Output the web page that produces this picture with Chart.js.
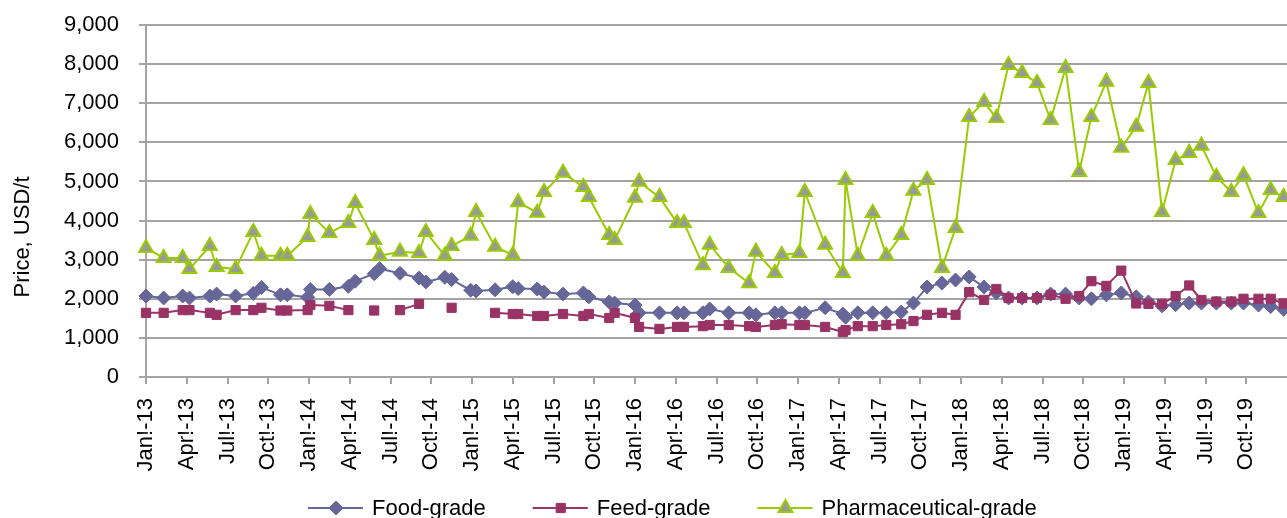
<!DOCTYPE html>
<html>
<head>
<meta charset="utf-8">
<title>Price, USD/t</title>
<script src="https://cdn.jsdelivr.net/npm/chart.js@4.4.1/dist/chart.umd.min.js"></script>
<style>
  html, body { margin: 0; padding: 0; background: #fff; }
  #wrap { width: 1287px; height: 518px; }
</style>
</head>
<body>
<div id="wrap"><canvas id="price-chart" width="1287" height="518"></canvas></div>
<script>
const monthPos = [
  0, 1.3, 2.7, 3.2, 4.7, 5.2, 6.6, 7.9, 8.5, 9.9, 10.4, 11.9, 12.1, 13.5,
  14.9, 15.4, 16.8, 17.2, 18.7, 20.1, 20.6, 22.0, 22.5, 23.9, 24.3, 25.7,
  27.0, 27.4, 28.8, 29.3, 30.7, 32.2, 32.6, 34.1, 34.5, 36.0, 36.3, 37.8,
  39.1, 39.6, 41.0, 41.5, 42.9, 44.4, 44.9, 46.3, 46.8, 48.1, 48.5, 50.0,
  51.3, 51.5, 52.4, 53.5, 54.5, 55.6, 56.5, 57.5, 58.6, 59.6, 60.6, 61.7,
  62.6, 63.5, 64.5, 65.6, 66.6, 67.7, 68.7, 69.6, 70.7, 71.8, 72.9, 73.8,
  74.8, 75.8, 76.8, 77.7, 78.8, 79.9, 80.8, 81.9, 82.8, 83.75
];

const foodGrade = [
  2070, 2020, 2070, 2020, 2070, 2120, 2070, 2140, 2290, 2100, 2100, 2040, 2240, 2240,
  2320, 2450, 2640, 2770, 2650, 2530, 2430, 2550, 2490, 2220, 2200, 2230,
  2310, 2260, 2250, 2170, 2120, 2150, 2050, 1920, 1890, 1840, 1640, 1640,
  1640, 1640, 1640, 1740, 1640, 1640, 1590, 1640, 1640, 1640, 1640, 1770,
  1610, 1530, 1640, 1640, 1640, 1660, 1890, 2300, 2400, 2480, 2560, 2300,
  2150, 2020, 2020, 2020, 2120, 2120, 2020, 2000, 2100, 2150, 2050, 1920,
  1820, 1850, 1890, 1890, 1890, 1890, 1890, 1840, 1800, 1730
];

// null = no quote for that date (gap in the line)
const feedGrade = [
  1640, 1640, 1710, 1710, 1640, 1590, 1710, 1710, 1770, 1700, 1700, 1710, 1840, 1820,
  1710, null, 1700, null, 1710, 1870, null, null, 1770, null, null, 1640,
  1610, 1610, 1560, 1560, 1610, 1560, 1610, 1510, 1640, 1510, 1280, 1230,
  1280, 1280, 1300, 1330, 1330, 1300, 1280, 1330, 1350, 1330, 1330, 1280,
  1150, 1200, 1300, 1300, 1330, 1350, 1430, 1590, 1640, 1590, 2170, 1970,
  2250, 2020, 2020, 2020, 2100, 2000, 2070, 2450, 2330, 2720, 1880, 1870,
  1870, 2070, 2340, 1970, 1930, 1930, 2000, 2000, 2000, 1880
];

const pharmaGrade = [
  3300, 3040, 3040, 2760, 3350, 2810, 2760, 3710, 3100, 3100, 3100, 3580, 4170, 3680,
  3940, 4450, 3500, 3100, 3200, 3170, 3710, 3100, 3350, 3610, 4220, 3330,
  3120, 4470, 4200, 4730, 5220, 4860, 4600, 3630, 3500, 4580, 4990, 4600,
  3940, 3940, 2860, 3380, 2790, 2400, 3200, 2660, 3120, 3170, 4730, 3380,
  2660, 5040, 3100, 4190, 3100, 3630, 4760, 5040, 2790, 3810, 6650, 7030,
  6620, 7980, 7770, 7520, 6570, 7900, 5240, 6650, 7550, 5860, 6400, 7520,
  4220, 5550, 5730, 5910, 5120, 4730, 5160, 4190, 4780, 4600
];

// Quarterly axis labels (one every 3 months from Jan 2013)
const tickLabels = [
  "Jan!-13", "Apr!-13", "Jul!-13", "Oct!-13",
  "Jan!-14", "Apr!-14", "Jul!-14", "Oct!-14",
  "Jan!-15", "Apr!-15", "Jul!-15", "Oct!-15",
  "Jan!-16", "Apr!-16", "Jul!-16", "Oct!-16",
  "Jan!-17", "Apr!-17", "Jul!-17", "Oct!-17",
  "Jan!-18", "Apr!-18", "Jul!-18", "Oct!-18",
  "Jan!-19", "Apr!-19", "Jul!-19", "Oct!-19"
];

const seriesNames = ["Food-grade", "Feed-grade", "Pharmaceutical-grade"];
const yTitle = "Price, USD/t";

const FONT = "'Liberation Sans', Arial, sans-serif";
const GRID = "#a3a3a3";

function toPoints(values) {
  return monthPos.map((m, i) => ({ x: m, y: values[i] }));
}

// Legend drawn as line + marker like the original
const lineLegend = {
  id: "lineLegend",
  afterDraw(chart) {
    const ctx = chart.ctx;
    const y = 508;
    let x = 308;
    ctx.save();
    ctx.font = "22px " + FONT;
    ctx.textBaseline = "middle";
    chart.data.datasets.forEach((ds) => {
      ctx.strokeStyle = ds.borderColor;
      ctx.lineWidth = 2;
      ctx.beginPath();
      ctx.moveTo(x, y);
      ctx.lineTo(x + 55, y);
      ctx.stroke();
      ctx.fillStyle = ds.pointBackgroundColor;
      ctx.strokeStyle = ds.pointBorderColor;
      ctx.lineWidth = ds.pointBorderWidth;
      Chart.helpers.drawPoint(
        ctx,
        { pointStyle: ds.pointStyle, radius: ds.pointRadius, borderWidth: ds.pointBorderWidth, rotation: 0 },
        x + 28,
        y
      );
      ctx.fillStyle = "#000";
      ctx.fillText(ds.label, x + 64, y + 1);
      x += 64 + ctx.measureText(ds.label).width + 47;
    });
    ctx.restore();
  },
};

// Y-axis title, placed a bit below the axis centre as in the original
const yAxisTitle = {
  id: "yAxisTitle",
  afterDraw(chart) {
    const ctx = chart.ctx;
    ctx.save();
    ctx.translate(23, 237);
    ctx.rotate(-Math.PI / 2);
    ctx.font = "22px " + FONT;
    ctx.fillStyle = "#000";
    ctx.textAlign = "center";
    ctx.textBaseline = "middle";
    ctx.fillText(yTitle, 0, 0);
    ctx.restore();
  },
};

// Initialize Chart
const ctx = document.getElementById("price-chart").getContext("2d");
const priceChart = new Chart(ctx, {
  type: "line",
  data: {
    datasets: [
      {
        label: seriesNames[0],
        data: toPoints(foodGrade),
        borderColor: "#666699",
        borderWidth: 2,
        pointStyle: "rectRot",
        pointRadius: 7,
        pointBackgroundColor: "#666699",
        pointBorderColor: "#666699",
        pointBorderWidth: 1,
        order: 3,
      },
      {
        label: seriesNames[1],
        data: toPoints(feedGrade),
        borderColor: "#993366",
        borderWidth: 2,
        pointStyle: "rect",
        pointRadius: 6.5,
        pointBackgroundColor: "#993366",
        pointBorderColor: "#993366",
        pointBorderWidth: 1,
        order: 2,
      },
      {
        label: seriesNames[2],
        data: toPoints(pharmaGrade),
        borderColor: "#99cc00",
        borderWidth: 2,
        pointStyle: "triangle",
        pointRadius: 8,
        pointBackgroundColor: "#999999",
        pointBorderColor: "#99cc00",
        pointBorderWidth: 2,
        order: 1,
      },
    ],
  },
  options: {
    responsive: false,
    animation: false,
    spanGaps: false,
    clip: false,
    layout: {
      autoPadding: false,
      padding: { top: 25, right: 0, bottom: 0, left: 0 },
    },
    font: { family: FONT },
    plugins: {
      legend: { display: false },
      tooltip: { enabled: false },
    },
    scales: {
      x: {
        type: "linear",
        min: 0,
        max: 84,
        afterFit: (scale) => {
          scale.height = 141;
          scale.paddingLeft = 0;
          scale.paddingRight = 0;
        },
        afterBuildTicks: (scale) => {
          scale.ticks = tickLabels.map((_, i) => ({ value: i * 3 }));
        },
        ticks: {
          autoSkip: false,
          minRotation: 90,
          maxRotation: 90,
          padding: 14,
          color: "#000",
          font: { family: FONT, size: 22 },
          callback: (value, index) => tickLabels[index],
        },
        grid: {
          drawOnChartArea: false,
          drawTicks: true,
          tickLength: 7,
          color: GRID,
          lineWidth: 2,
        },
        border: { display: true, color: GRID, width: 2 },
      },
      y: {
        min: 0,
        max: 9000,
        afterFit: (scale) => {
          scale.width = 146;
          scale.paddingTop = 0;
          scale.paddingBottom = 0;
        },
        ticks: {
          stepSize: 1000,
          padding: 20,
          color: "#000",
          font: { family: FONT, size: 22 },
          callback: (value) => value.toLocaleString("en-US"),
        },
        grid: { color: GRID, lineWidth: 2, tickLength: 7 },
        border: { display: true, color: GRID, width: 2 },
      },
    },
  },
  plugins: [lineLegend, yAxisTitle],
});
</script>
</body>
</html>
